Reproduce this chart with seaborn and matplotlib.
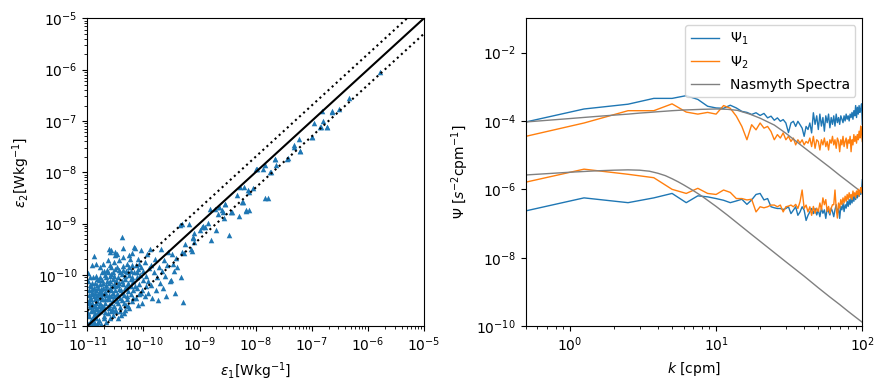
import matplotlib
matplotlib.use("Agg")
import matplotlib.pyplot as plt
import seaborn as sns
import numpy as np

# ---- left panel: dissipation rate from probe 1 vs probe 2 (log10 values) ----
eps1_log = [
    -10.98, -10.97, -10.96, -10.95, -10.97, -10.99, -10.98, -10.94, -10.93, -10.92,
    -10.91, -10.93, -10.90, -10.88, -10.89, -10.88, -10.87, -10.86, -10.85, -10.86,
    -10.85, -10.84, -10.83, -10.82, -10.82, -10.81, -10.80, -10.95, -10.90, -10.86,
    -10.96, -10.92, -10.83, -10.81, -10.85, -10.97, -10.91, -10.88, -10.84, -10.80,
    -10.79, -10.78, -10.77, -10.76, -10.75, -10.74, -10.73, -10.72, -10.62, -10.60,
    -10.58, -10.71, -10.70, -10.69, -10.68, -10.67, -10.66, -10.65, -10.64, -10.63,
    -10.62, -10.61, -10.60, -10.59, -10.58, -10.57, -10.56, -10.55, -10.54, -10.53,
    -10.52, -10.51, -10.50, -10.77, -10.74, -10.70, -10.66, -10.64, -10.60, -10.57,
    -10.55, -10.53, -10.52, -10.78, -10.72, -10.68, -10.62, -10.58, -10.54, -10.51,
    -10.49, -10.48, -10.47, -10.46, -10.45, -10.44, -10.43, -10.375, -10.42, -10.41,
    -10.40, -10.39, -10.38, -10.37, -10.36, -10.35, -10.34, -10.33, -10.32, -10.31,
    -10.30, -10.29, -10.28, -10.27, -10.26, -10.25, -10.24, -10.23, -10.22, -10.21,
    -10.17, -10.15, -10.45, -10.40, -10.33, -10.28, -10.48, -10.44, -10.36, -10.30,
    -10.26, -10.22, -10.20, -10.21,
    -10.99, -10.98, -10.97, -10.96, -10.95, -10.94, -10.93, -10.92, -10.91, -10.90,
    -10.89, -10.88, -10.87, -10.86, -10.85, -10.84, -10.83, -10.82, -10.81, -10.80,
    -10.79, -10.78, -10.77, -10.76, -10.75, -10.74, -10.73, -10.72, -10.71, -10.70,
    -10.69, -10.68, -10.67, -10.66, -10.65, -10.64, -10.63, -10.62, -10.61, -10.60,
    -10.59, -10.58, -10.57, -10.56, -10.55, -10.53, -10.51, -10.50, -10.49, -10.47,
    -10.46, -10.45, -10.43, -10.42, -10.41, -10.39, -10.38, -10.36, -10.35, -10.33,
    -10.31, -10.29, -10.27, -10.25, -10.23, -10.20, -10.18, -10.15, -10.12, -10.10,
    -10.07, -10.05, -10.92, -10.50, -10.36,
    -10.19, -10.18, -10.16, -10.14, -10.13, -10.12, -10.11, -10.10, -10.09, -10.08,
    -10.07, -10.06, -10.05, -10.04, -10.03, -10.02, -10.01, -10.00, -9.98, -9.97,
    -9.96, -9.95, -9.94, -9.92, -9.91, -9.90, -9.87, -9.88,
    -9.86, -9.84, -9.82, -9.80, -9.78, -9.76, -9.74, -9.72, -9.70, -9.69,
    -9.67, -9.65, -9.63, -9.61, -9.60, -9.58, -9.56, -9.53, -9.51, -9.49,
    -9.48, -9.46, -9.44, -9.42, -9.40, -9.33, -9.30, -9.35, -9.32, -9.25,
    -9.27, -9.15, -9.18, -9.31, -9.12, -9.09, -9.09, -9.14, -9.11, -8.99,
    -8.95, -8.93, -8.90, -8.84, -8.81, -8.79, -8.71, -8.72, -8.66, -8.60,
    -8.67, -8.65, -8.57, -8.54, -8.48, -8.59, -8.55, -8.43, -8.42, -8.33,
    -8.29, -8.27, -8.24, -8.23, -8.21, -8.18, -8.17, -8.13, -8.12, -8.11,
    -8.04, -7.99, -7.98, -7.86, -7.84, -7.83, -7.77, -7.74, -7.73, -7.66,
    -7.65, -7.64, -7.44, -7.43, -7.32, -7.32, -7.23, -7.21, -7.21, -7.00,
    -6.99, -6.96, -6.86, -6.84, -6.81, -6.79, -6.73, -6.72, -6.64, -6.63,
    -6.52, -6.34, -5.79,
]
eps2_log = [
    -10.95, -10.80, -10.62, -10.45, -10.30, -10.12, -9.96, -10.88, -10.70, -10.55,
    -10.38, -10.22, -10.05, -9.64, -10.92, -10.78, -10.60, -10.47, -10.30, -10.15,
    -10.02, -10.85, -10.66, -10.52, -10.40, -10.25, -10.10, -10.58, -10.68, -10.36,
    -11.00, -10.98, -10.95, -10.72, -9.78, -10.52, -10.27, -10.42, -10.55, -10.35,
    -10.88, -10.70, -10.55, -10.42, -10.28, -10.10, -9.95, -9.78, -9.50, -9.56,
    -9.52, -10.80, -10.62, -10.48, -10.33, -10.20, -10.05, -9.90, -9.72, -10.75,
    -10.58, -10.40, -10.25, -10.12, -9.98, -9.84, -10.66, -10.50, -10.35, -10.18,
    -10.02, -9.88, -9.62, -9.85, -10.60, -10.38, -10.92, -10.45, -10.85, -10.30,
    -10.08, -9.75, -10.60, -10.18, -10.25, -10.00, -10.15, -10.42, -10.78, -10.22,
    -10.70, -10.52, -10.38, -10.20, -10.05, -9.90, -9.72, -9.27, -10.62, -10.45,
    -10.30, -10.12, -9.98, -9.82, -9.66, -10.55, -10.40, -10.25, -10.08, -9.93,
    -9.78, -10.48, -10.32, -10.15, -10.00, -9.85, -9.70, -10.38, -10.22, -10.05,
    -9.45, -9.48, -10.85, -10.78, -10.68, -10.60, -9.60, -10.28, -10.18, -10.42,
    -9.62, -9.92, -10.52, -9.58,
    -10.75, -10.55, -10.40, -10.20, -10.05, -10.92, -10.48, -10.33, -10.15, -10.85,
    -10.60, -10.25, -10.95, -10.75, -10.65, -10.45, -10.20, -10.08, -10.92, -10.60,
    -10.45, -10.32, -10.05, -10.95, -10.65, -10.48, -10.35, -10.15, -9.92, -10.85,
    -10.72, -10.55, -10.40, -10.25, -10.12, -9.95, -10.30, -10.48, -10.65, -10.02,
    -9.80, -10.70, -10.55, -10.22, -9.95, -10.42, -10.68, -10.30, -10.10, -9.85,
    -10.55, -10.40, -10.15, -9.95, -10.70, -10.50, -10.35, -9.90, -10.75, -10.02,
    -10.58, -10.22, -9.95, -10.65, -10.08, -9.80, -10.45, -10.22, -9.95, -10.58,
    -9.78, -10.35, -9.80, -9.55, -9.48,
    -10.30, -10.12, -9.95, -9.80, -10.45, -10.25, -10.05, -9.88, -9.70, -10.38,
    -10.18, -10.00, -9.85, -9.52, -10.55, -10.30, -10.10, -9.92, -9.75, -10.42,
    -10.22, -10.02, -9.60, -10.35, -10.12, -9.86, -9.81, -9.50,
    -10.20, -10.45, -9.95, -9.70, -10.30, -10.05, -10.50, -9.85, -10.15, -9.50,
    -9.92, -10.25, -9.72, -10.02, -10.41, -9.80, -9.55, -10.12, -10.10, -9.60,
    -9.78, -9.92, -10.35, -9.68, -9.85, -10.04, -10.53, -9.03, -9.55, -9.40,
    -9.58, -9.50, -9.00, -9.01, -9.26, -9.18, -9.36, -9.53, -9.29, -9.13,
    -9.06, -9.04, -9.06, -8.99, -8.71, -9.32, -9.13, -8.71, -8.67, -8.74,
    -8.82, -8.67, -8.90, -8.61, -9.23, -8.78, -8.61, -8.78, -8.77, -8.44,
    -8.86, -8.28, -8.59, -8.59, -8.28, -8.75, -8.74, -8.35, -8.38, -8.73,
    -8.30, -7.93, -7.93, -7.93, -7.86, -8.51, -8.51, -7.99, -7.99, -7.75,
    -7.75, -7.86, -7.75, -7.73, -7.47, -7.51, -7.36, -7.58, -7.58, -7.31,
    -7.31, -7.04, -7.11, -7.11, -6.81, -7.00, -7.11, -7.11, -6.82, -6.81,
    -6.76, -6.55, -6.04,
]

ref_line = np.array([1e-11, 1e-5])

# ---- right panel: shear spectra (log10 values) ----
k = [0.5, 1.25, 2.5, 3.75, 5.0, 6.25, 7.5, 8.75, 10.0, 11.25,
     12.5, 13.75, 15.0, 16.25, 17.5, 18.75, 20.0, 21.25, 22.5, 23.75,
     25.0, 26.25, 27.5, 28.75, 30.0, 31.25, 32.5, 33.75, 35.0, 36.25,
     37.5, 38.75, 40.0, 41.25, 42.5, 43.75, 45.0, 46.25, 47.5, 48.75,
     50.0, 51.25, 52.5, 53.75, 55.0, 56.25, 57.5, 58.75, 60.0, 61.25,
     62.5, 63.75, 65.0, 66.25, 67.5, 68.75, 70.0, 71.25, 72.5, 73.75,
     75.0, 76.25, 77.5, 78.75, 80.0, 81.25, 82.5, 83.75, 85.0, 86.25,
     87.5, 88.75, 90.0, 91.25, 92.5, 93.75, 95.0, 96.25, 97.5, 98.75, 100.0]

psi1_high = [-4.03, -3.65, -3.51, -3.34, -3.34, -3.26, -3.37, -3.57, -3.62, -3.63,
             -3.54, -3.62, -3.72, -3.75, -3.81, -3.76, -3.84, -3.78, -3.91, -3.86,
             -3.98, -3.91, -4.01, -3.96, -4.06, -4.34, -4.06, -4.01, -4.16, -4.01,
             -4.11, -4.21, -4.45, -4.16, -4.25, -4.06, -4.35, -3.76, -4.10, -3.85,
             -4.25, -3.80, -4.15, -3.90, -4.30, -3.85, -4.05, -3.80, -4.20, -3.90,
             -4.10, -3.85, -4.15, -3.80, -4.05, -3.90, -4.10, -3.85, -3.95, -4.05,
             -3.85, -4.00, -3.80, -3.95, -3.85, -4.00, -3.80, -3.90, -3.75, -3.95,
             -3.70, -3.85, -3.55, -3.90, -3.60, -3.80, -3.55, -3.75, -3.65, -3.50, -4.10]
psi2_high = [-4.45, -4.06, -3.70, -3.70, -3.50, -3.74, -3.80, -3.75, -3.80, -3.55,
             -3.63, -3.86, -4.16, -4.55, -4.11, -4.26, -4.06, -4.21, -4.16, -4.31,
             -4.55, -4.40, -4.50, -4.35, -4.55, -4.45, -4.60, -4.50, -4.70, -4.55,
             -4.65, -4.55, -4.70, -4.60, -4.65, -4.50, -4.75, -4.45, -4.80, -4.55,
             -4.60, -4.85, -4.55, -4.70, -4.50, -4.75, -4.60, -4.85, -4.55, -4.65,
             -4.45, -4.70, -4.55, -4.80, -4.50, -4.60, -4.90, -4.55, -4.70, -4.45,
             -4.75, -4.60, -4.50, -4.80, -4.55, -4.65, -4.45, -4.90, -4.55, -4.70,
             -4.40, -4.60, -4.45, -4.65, -4.40, -4.55, -4.30, -4.50, -4.15, -4.35, -4.60]
psi1_low = [-6.63, -6.25, -6.39, -6.25, -6.12, -6.39, -6.19, -6.22, -6.27, -6.32,
            -6.39, -6.34, -6.29, -6.44, -6.31, -6.15, -6.12, -6.31, -6.27, -6.51,
            -6.54, -6.56, -6.56, -6.59, -6.56, -6.51, -6.71, -6.61, -6.51, -6.76,
            -6.66, -6.51, -6.61, -6.91, -6.76, -6.66, -6.56, -6.71, -6.56, -6.75,
            -6.60, -6.80, -6.55, -6.70, -6.60, -6.85, -6.55, -6.65, -6.75, -6.55,
            -6.65, -6.80, -6.60, -6.45, -6.70, -6.55, -6.85, -6.50, -6.60, -6.40,
            -6.65, -6.45, -6.55, -6.35, -6.50, -6.30, -6.45, -6.25, -6.40, -6.20,
            -6.35, -6.15, -6.30, -6.10, -6.25, -6.10, -6.20, -6.05, -6.15, -6.05, -5.72]
psi2_low = [-5.79, -5.41, -5.56, -5.66, -6.00, -6.12, -5.97, -6.12, -6.15, -6.02,
            -6.09, -6.27, -6.27, -6.31, -6.29, -6.66, -6.51, -6.54, -6.51, -6.46,
            -6.46, -6.51, -6.46, -6.66, -6.51, -6.49, -6.46, -6.51, -6.44, -6.56,
            -6.36, -6.02, -6.56, -6.46, -6.66, -6.51, -6.76, -6.50, -6.70, -6.55,
            -6.65, -6.40, -6.60, -6.25, -6.45, -6.30, -6.65, -6.50, -6.70, -6.55,
            -6.45, -6.45, -6.02, -6.55, -6.84, -6.40, -6.55, -6.30, -6.45, -6.25,
            -6.40, -6.20, -6.35, -6.15, -6.30, -6.10, -6.25, -6.15, -6.30, -6.05,
            -6.20, -6.10, -6.25, -6.05, -6.15, -6.00, -6.20, -6.05, -5.95, -6.10, -5.95]

k_nas = [0.5, 1, 1.5, 2, 2.5, 3, 3.5, 4, 4.5, 5, 5.5, 6, 7, 8, 10, 12, 14, 17, 20, 25,
         30, 40, 50, 60, 70, 80, 90, 100]
nas_high = [-4.03, -3.93, -3.87, -3.83, -3.80, -3.77, -3.75, -3.73, -3.715, -3.70, -3.69, -3.68,
            -3.67, -3.66, -3.65, -3.66, -3.69, -3.80, -3.92, -4.12,
            -4.36, -4.78, -5.10, -5.36, -5.59, -5.78, -5.95, -6.10]
nas_low = [-5.58, -5.50, -5.46, -5.44, -5.43, -5.44, -5.47, -5.53, -5.60, -5.69, -5.78, -5.87,
           -6.04, -6.20, -6.50, -6.76, -6.99, -7.28, -7.52, -7.85,
           -8.12, -8.54, -8.88, -9.15, -9.37, -9.57, -9.74, -9.89]

fig, (ax1, ax2) = plt.subplots(1, 2, figsize=(8.84, 3.91), dpi=100)
plt.subplots_adjust(left=0.0988, right=0.9755, bottom=0.166, top=0.953, wspace=0.303)

# left: scatter + 1:1 and factor-of-2 lines
sns.scatterplot(x=10 ** np.array(eps1_log), y=10 ** np.array(eps2_log), ax=ax1,
                marker='^', s=16, color='tab:blue', linewidth=0)
ax1.plot(ref_line, ref_line, color='black', lw=1.5)
ax1.plot(ref_line, 2 * ref_line, color='black', lw=1.5, ls=':')
ax1.plot(ref_line, ref_line / 2, color='black', lw=1.5, ls=':')
ax1.set_xscale('log')
ax1.set_yscale('log')
ax1.set_xlim(1e-11, 1e-5)
ax1.set_ylim(1e-11, 1e-5)
ax1.set_xlabel(r'$\epsilon_1$[Wkg$^{-1}$]')
ax1.set_ylabel(r'$\epsilon_2$[Wkg$^{-1}$]')

# right: spectra
k_arr = np.array(k)
sns.lineplot(x=k_arr, y=10 ** np.array(psi1_high), ax=ax2, color='tab:blue', lw=1, label=r'$\Psi_1$')
sns.lineplot(x=k_arr, y=10 ** np.array(psi2_high), ax=ax2, color='tab:orange', lw=1, label=r'$\Psi_2$')
sns.lineplot(x=k_nas, y=10 ** np.array(nas_high), ax=ax2, color='gray', lw=1, label='Nasmyth Spectra')
sns.lineplot(x=k_arr, y=10 ** np.array(psi1_low), ax=ax2, color='tab:blue', lw=1)
sns.lineplot(x=k_arr, y=10 ** np.array(psi2_low), ax=ax2, color='tab:orange', lw=1)
sns.lineplot(x=k_nas, y=10 ** np.array(nas_low), ax=ax2, color='gray', lw=1)
ax2.set_xscale('log')
ax2.set_yscale('log')
ax2.set_xlim(0.5, 100)
ax2.set_ylim(1e-10, 1e-1)
ax2.set_xlabel(r'$k$ [cpm]')
ax2.set_ylabel(r'$\Psi$ [$s^{-2}$cpm$^{-1}$]')
ax2.legend(loc='upper right')

plt.savefig('out.png', dpi=100)
